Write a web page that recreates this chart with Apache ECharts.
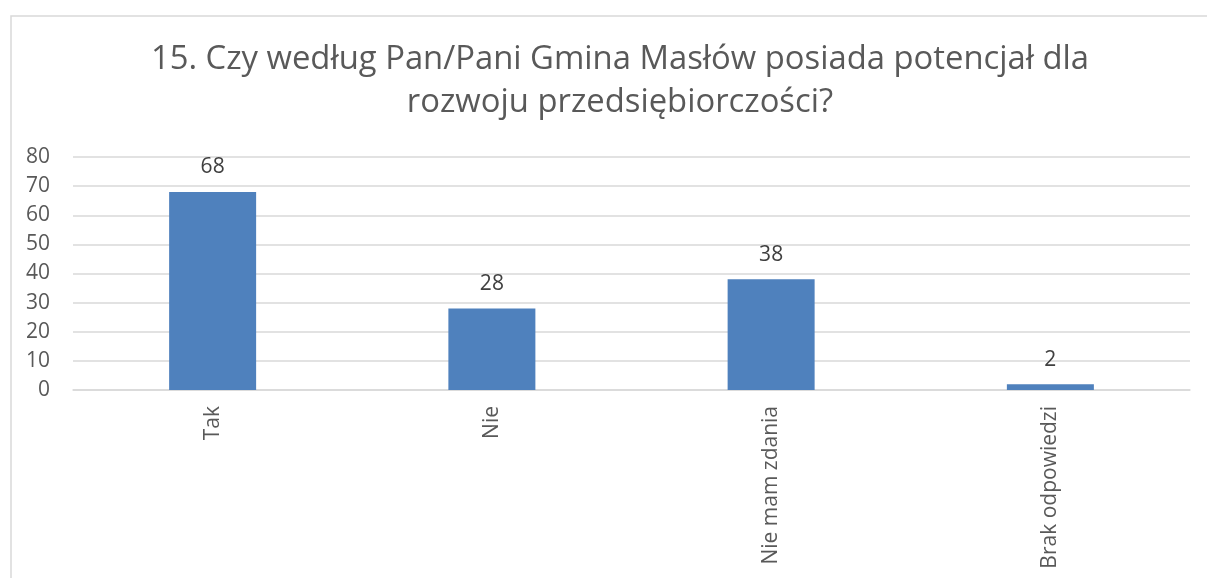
<!DOCTYPE html>
<html>
<head>
<meta charset="utf-8">
<script src="https://cdn.jsdelivr.net/npm/echarts@6/dist/echarts.min.js"></script>
<style>
  html, body { margin: 0; padding: 0; background: #fff; }
  #chart { width: 1207px; height: 578px; }
</style>
</head>
<body>
<div id="chart"></div>
<script>
  // answers and counts
  const categories = ['Tak', 'Nie', 'Nie mam zdania', 'Brak odpowiedzi'];
  const counts = [68, 28, 38, 2];
  const yTicks = { min: 0, max: 80, step: 10 };
  const titleLines = ['15. Czy według Pan/Pani Gmina Masłów posiada potencjał dla',
                      'rozwoju przedsiębiorczości?'];

  const font = "'Open Sans', 'Liberation Sans', sans-serif";
  const chart = echarts.init(document.getElementById('chart'));
  chart.setOption({
    animation: false,
    graphic: [{
      type: 'rect', left: 8.5, top: 13.5,
      shape: { width: 1300, height: 700 },
      style: { fill: 'none', stroke: '#d9d9d9', lineWidth: 1.5 },
      silent: true
    }],
    title: {
      text: titleLines.join('\n'),
      left: 615, top: 33, textAlign: 'center',
      textStyle: { color: '#595959', fontSize: 32.8, fontWeight: 'normal', fontFamily: font, lineHeight: 43 }
    },
    grid: { left: 73, right: 17, top: 157, bottom: 188 },
    xAxis: {
      type: 'category', data: categories,
      axisLine: { lineStyle: { color: '#d9d9d9', width: 1.5 } },
      axisTick: { show: false },
      axisLabel: { rotate: 90, color: '#595959', fontSize: 21, fontFamily: font, margin: 16 }
    },
    yAxis: {
      type: 'value', min: yTicks.min, max: yTicks.max, interval: yTicks.step,
      axisLine: { show: false }, axisTick: { show: false },
      splitLine: { lineStyle: { color: '#d9d9d9', width: 1.5 } },
      axisLabel: { color: '#595959', fontSize: 21, fontFamily: font, margin: 23 }
    },
    series: [{
      type: 'bar', data: counts, barWidth: 87,
      itemStyle: { color: '#4f81bd' },
      label: { show: true, position: 'top', distance: 14, color: '#404040', fontSize: 21, fontFamily: font }
    }]
  });
</script>
</body>
</html>
